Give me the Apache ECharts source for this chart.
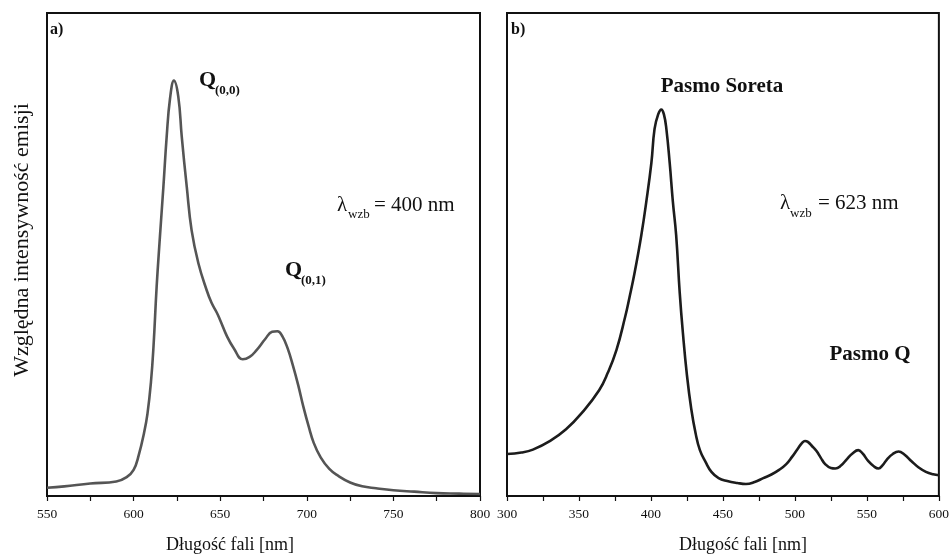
<!DOCTYPE html>
<html>
<head>
<meta charset="utf-8">
<script src="https://cdn.jsdelivr.net/npm/echarts@6/dist/echarts.min.js"></script>
<style>
  html, body { margin: 0; padding: 0; background: #fff; }
  #chart { width: 952px; height: 554px; }
</style>
</head>
<body>
<div id="chart"></div>
<script>
// Panel a): emission spectrum, excitation at 400 nm
const wavelengthA = [550,560,575,590,596,600,603,606,608,610,611.5,613.3,615.2,617.2,619.1,621,623.3,625.8,627.8,630.7,633.5,637.4,642.2,645,648,650,654,658,663,667,671,676,680,683,686,689,692,695,698,701,704,708,713,718,725,732,740,750,762,775,788,800];
const intensityA  = [1.7,2.0,2.6,3.0,3.9,5.4,8.5,13,17,23.5,31,43.3,53.7,64,74.4,82.2,86,82.7,74.4,64,55,48.2,42.6,40,38,36.4,33,30.5,28.3,28.8,30.2,32.5,34,34.1,33,30.5,27,23,18.5,14.5,11,8,5.6,4.2,2.8,2.0,1.6,1.2,0.9,0.6,0.5,0.4];

// Panel b): excitation spectrum, emission at 623 nm
const wavelengthB = [300,310,318,330,341,352,364,370,376,382,385,388.5,393.3,396.8,400.3,402.5,405,407.2,409,410.7,413,415.2,417.5,420,422.2,425,428,431,434,438,442,447,453,460,466,472,478,484,489,494,498,502,505,507,509,512,515,518,521,525,528,532,536,540,544,547,551,555,558,561,564,568,572,576,581,586,591,596,600];
const intensityB  = [8.7,9.0,9.6,11.4,13.8,17.2,21.9,25.5,30.2,37,41,46,54,61,69,76,79,80,79,76,69,61,54,42,33.7,25,18,13,9.5,7,5,3.7,3.1,2.7,2.5,2.9,3.7,4.5,5.4,6.6,8.1,9.8,11,11.4,11.2,10.3,9.3,7.9,6.6,5.8,5.7,6.3,7.6,8.8,9.5,8.8,7.2,6.1,5.7,6.4,7.6,8.7,9.2,8.6,7.2,5.9,5.0,4.5,4.3];

const ticksA = [550, 600, 650, 700, 750, 800];
const ticksB = [300, 350, 400, 450, 500, 550, 600];

const SERIF = '"Liberation Serif", "DejaVu Serif", serif';

function pairs(xs, ys) { return xs.map((x, i) => [x, ys[i]]); }

function xAxisFor(gridIndex, ticks) {
  return {
    type: 'value', gridIndex,
    min: ticks[0], max: ticks[ticks.length - 1], interval: 50,
    axisLine: { show: true, onZero: false, lineStyle: { color: '#111', width: 2 } },
    axisTick: { show: true, inside: false, length: 5, lineStyle: { color: '#111', width: 1.2 } },
    minorTick: { show: true, splitNumber: 2, length: 5, lineStyle: { color: '#111', width: 1.2 } },
    splitLine: { show: false },
    axisLabel: { show: true, margin: 11, color: '#111', fontFamily: SERIF, fontSize: 13.5, showMinLabel: true, showMaxLabel: true }
  };
}

function yAxisFor(gridIndex) {
  return {
    type: 'value', gridIndex, min: 0, max: 100,
    axisLine: { show: false }, axisTick: { show: false }, axisLabel: { show: false }, splitLine: { show: false }
  };
}

function txt(x, y, text, size, bold, align) {
  return {
    type: 'text', x, y, z: 100,
    style: {
      text, fill: '#111',
      font: (bold ? 'bold ' : '') + size + 'px ' + SERIF,
      align: align || 'left', verticalAlign: 'middle'
    }
  };
}

const chart = echarts.init(document.getElementById('chart'), null, { renderer: 'canvas' });

chart.setOption({
  animation: false,
  backgroundColor: '#fff',
  grid: [
    { left: 47, top: 13, width: 433, height: 483, show: true, borderColor: '#111', borderWidth: 2, backgroundColor: 'transparent' },
    { left: 507, top: 13, width: 433, height: 483, show: true, borderColor: '#111', borderWidth: 2, backgroundColor: 'transparent' }
  ],
  xAxis: [xAxisFor(0, ticksA), xAxisFor(1, ticksB)],
  yAxis: [yAxisFor(0), yAxisFor(1)],
  series: [
    {
      type: 'line', xAxisIndex: 0, yAxisIndex: 0,
      data: pairs(wavelengthA, intensityA),
      showSymbol: false, smooth: 0.45,
      lineStyle: { color: '#555', width: 2.6 }
    },
    {
      type: 'line', xAxisIndex: 1, yAxisIndex: 1,
      data: pairs(wavelengthB, intensityB),
      showSymbol: false, smooth: 0.45,
      lineStyle: { color: '#1c1c1c', width: 2.6 }
    }
  ],
  graphic: [
    // panel letters
    txt(50, 30, 'a)', 16, true),
    txt(511, 30, 'b)', 16, true),
    // panel a) annotations
    txt(199, 80, 'Q', 22, true),
    txt(215, 91, '(0,0)', 13, true),
    txt(285, 270, 'Q', 22, true),
    txt(301, 281, '(0,1)', 13, true),
    txt(337, 205, 'λ', 21, false),
    txt(348, 215, 'wzb', 13, false),
    txt(374, 205, '= 400 nm', 21, false),
    // panel b) annotations
    txt(722, 87, 'Pasmo Soreta', 21, true, 'center'),
    txt(780, 203, 'λ', 21, false),
    txt(790, 214, 'wzb', 13, false),
    txt(818, 203, '= 623 nm', 21, false),
    txt(870, 355, 'Pasmo Q', 21, true, 'center'),
    // axis titles
    txt(230, 545, 'Długość fali [nm]', 18, false, 'center'),
    txt(743, 545, 'Długość fali [nm]', 18, false, 'center'),
    {
      type: 'text', x: 22, y: 240, rotation: Math.PI / 2, z: 100,
      style: { text: 'Względna intensywność emisji', fill: '#111', font: '22px ' + SERIF, align: 'center', verticalAlign: 'middle' }
    }
  ]
});
</script>
</body>
</html>
